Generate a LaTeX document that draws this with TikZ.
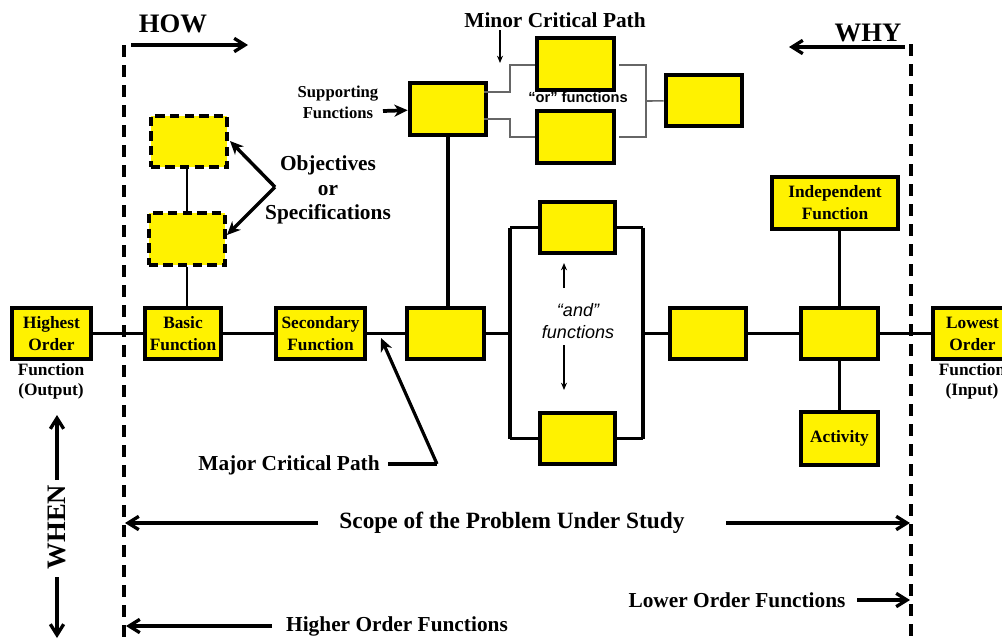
\documentclass[tikz,border=0pt]{standalone}
\usepackage{fontspec}
\setmainfont{Liberation Serif}
\newfontfamily\arialf{Liberation Sans}
\usetikzlibrary{arrows.meta}
\begin{document}
\begin{tikzpicture}[x=0.75pt,y=-0.75pt,
 fb/.style={draw, line width=2.9pt, fill=yellow, minimum width=57.5pt, minimum height=38.5pt, inner sep=0pt, align=center, font=\fontsize{13}{16.5}\selectfont\bfseries},
 db/.style={fb, dash pattern=on 7pt off 4pt},
 conn/.style={line width=2.6pt},
 thinln/.style={line width=1.2pt, draw=black!60},
 lbl/.style={font=\fontsize{16}{18.5}\selectfont\bfseries, align=center, inner sep=0pt},
 big/.style={font=\fontsize{20}{22}\selectfont\bfseries, inner sep=0pt},
 arr/.style={line width=2.5pt, -{Straight Barb[length=8pt,width=10pt]}},
 sarr/.style={line width=2.8pt, -{Stealth[length=10pt,width=9pt,inset=3pt]}},
 tarr/.style={line width=1.2pt, -{Stealth[length=5.5pt,width=4.5pt]}},
 scopeln/.style={dash pattern=on 9pt off 6pt, line width=2.6pt}
]
\clip (0,0) rectangle (1002,643);
% scope boundaries
\coordinate (L0) at (124,45); \coordinate (L1) at (124,643);
\coordinate (R0) at (911,44); \coordinate (R1) at (911,643);
\draw[scopeln] (L0) -- (L1);
\draw[scopeln] (R0) -- (R1);

% HOW / WHY
\node[big] (how) at (173,24) {HOW};
\coordinate (howa) at (131,45); \coordinate (howb) at (248,45);
\draw[arr] (howa) -- (howb);
\node[big] (why) at (868,33) {WHY};
\coordinate (whya) at (905,47); \coordinate (whyb) at (789,47);
\draw[arr] (whya) -- (whyb);

% main path boxes
\node[fb, minimum width=59pt] (hi) at (51.5,333.5) {Highest\\Order};
\node[lbl, font=\fontsize{13}{15}\selectfont\bfseries] (hitxt) at (51,381) {Function\\(Output)};
\node[fb] (basic) at (183,333.5) {Basic\\Function};
\node[fb, minimum width=66.5pt] (sec) at (320.5,333.5) {Secondary\\Function};
\node[fb] (j1) at (445.5,333.5) {};
\node[fb, minimum width=56pt] (andt) at (577.5,227.5) {};
\node[fb, minimum width=56pt] (andb) at (577.5,438.5) {};
\node[fb] (b2) at (708,333.5) {};
\node[fb] (b3) at (839.5,333.5) {};
\node[fb, minimum width=94.5pt, minimum height=39pt] (indep) at (835,203) {Independent\\Function};
\node[fb, minimum height=39.5pt] (act) at (839.5,438.5) {Activity};
\node[fb, minimum width=59pt] (lo) at (972.5,333.5) {Lowest\\Order};
\node[lbl, font=\fontsize{13}{15}\selectfont\bfseries] (lotxt) at (972,381) {Function\\(Input)};

% and structure
\coordinate (aL) at (510,333.5);
\coordinate (aLt) at (510,227.5); \coordinate (aLb) at (510,438.5);
\coordinate (aRt) at (643,227.5); \coordinate (aRb) at (643,438.5);
\coordinate (aR) at (643,333.5);
\draw[conn] (hi) -- (basic);
\draw[conn] (basic) -- (sec);
\draw[conn] (sec) -- (j1);
\draw[conn] (j1) -- (aL);
\draw[conn] (aLt) -- (aLb);
\draw[conn] (aRt) -- (aRb);
\draw[conn] (aLt) -- (andt);
\draw[conn] (andt) -- (aRt);
\draw[conn] (aLb) -- (andb);
\draw[conn] (andb) -- (aRb);
\draw[conn] (aR) -- (b2);
\draw[conn] (b2) -- (b3);
\draw[conn] (b3) -- (lo);
\draw[conn] (b3.north |- indep.south) -- (b3);
\draw[conn] (b3) -- (act);

\node[inner sep=0pt, align=center, font=\arialf\itshape\fontsize{13.5}{16}\selectfont] (andtxt) at (578,321) {“and”\\functions};
\coordinate (au0) at (564,288); \coordinate (au1) at (564,263);
\coordinate (ad0) at (564,345); \coordinate (ad1) at (564,390);
\draw[tarr] (au0) -- (au1);
\draw[tarr] (ad0) -- (ad1);

% supporting / or functions
\node[fb, minimum height=39pt] (supp) at (448,109) {};
\draw[conn] (supp.south) -- (supp.south |- j1.north);
\node[lbl, font=\fontsize{12.5}{15.5}\selectfont\bfseries] (supptxt) at (338,102) {Supporting\\Functions};
\coordinate (sa) at (383,111);
\draw[sarr] (sa) -- (supp);
\node[fb] (ort) at (575.5,64) {};
\node[fb] (orb) at (575.5,137) {};
\node[fb] (orr) at (704,100.5) {};
\coordinate (o1) at (484,92); \coordinate (o1a) at (510,92); \coordinate (o1b) at (510,65);
\coordinate (o2) at (484,119); \coordinate (o2a) at (510,119); \coordinate (o2b) at (510,137);
\coordinate (o3a) at (619,65); \coordinate (o3b) at (646,65);
\coordinate (o4a) at (619,137); \coordinate (o4b) at (646,137);
\coordinate (o5) at (646,101);
\draw[thinln] (o1) -- (o1a) -- (o1b) -- (ort.west |- o1b);
\draw[thinln] (o2) -- (o2a) -- (o2b) -- (orb.west |- o2b);
\draw[thinln] (o3a) -- (o3b) -- (o4b) -- (o4a);
\draw[thinln] (o5) -- (orr);
\node[inner sep=0pt, font=\arialf\bfseries\fontsize{11}{13}\selectfont] (ortxt) at (578,97) {“or” functions};
\node[lbl] (minor) at (555,20) {Minor Critical Path};
\coordinate (ma) at (500,30); \coordinate (mb) at (500,63);
\draw[tarr] (ma) -- (mb);

% objectives
\node[db] (obj1) at (189,141.5) {};
\node[db] (obj2) at (187,239) {};
\draw[line width=1pt] (obj1.south -| 187,0) -- (obj2.north);
\draw[line width=1pt] (obj2.south) -- (basic.north -| obj2.south);
\node[lbl, font=\fontsize{16}{18.5}\selectfont\bfseries] (objtxt) at (328,190) {Objectives\\or\\Specifications};
\coordinate (ov) at (275,187);
\coordinate (oa) at (230,141); \coordinate (ob) at (227,235);
\draw[sarr, line width=2.6pt] (ov) -- (oa);
\draw[sarr, line width=2.6pt] (ov) -- (ob);

% major critical path
\node[lbl] (major) at (289,465) {Major Critical Path};
\coordinate (mj0) at (388,464); \coordinate (mj1) at (437,464); \coordinate (mj2) at (381,338);
\draw[conn] (mj0) -- (mj1);
\draw[sarr, line width=2.4pt] (mj1) -- (mj2);

% scope
\node[lbl, font=\fontsize{17.5}{20}\selectfont\bfseries] (scope) at (512,523) {Scope of the Problem Under Study};
\coordinate (s0) at (318,523); \coordinate (s1) at (125,523);
\coordinate (s2) at (726,523); \coordinate (s3) at (910,523);
\draw[arr] (s0) -- (s1);
\draw[arr] (s2) -- (s3);
\node[lbl] (lower) at (737,600) {Lower Order Functions};
\coordinate (lw0) at (857,600); \coordinate (lw1) at (910,600);
\draw[arr] (lw0) -- (lw1);
\node[lbl] (higher) at (397,626) {Higher Order Functions};
\coordinate (hg0) at (272,626); \coordinate (hg1) at (126,626);
\draw[arr] (hg0) -- (hg1);

% WHEN
\node[big, rotate=90] (when) at (57,527) {WHEN};
\coordinate (w0) at (57,480); \coordinate (w1) at (57,415);
\coordinate (w2) at (57,577); \coordinate (w3) at (57,638);
\draw[arr] (w0) -- (w1);
\draw[arr] (w2) -- (w3);
\end{tikzpicture}
\end{document}
